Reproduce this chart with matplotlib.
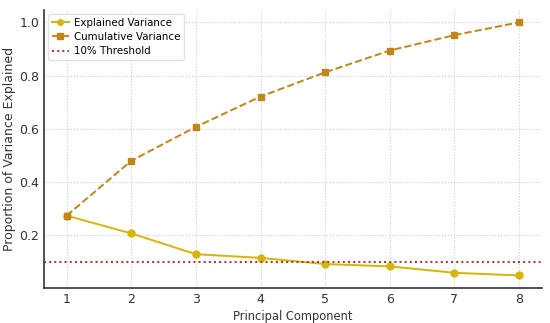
import numpy as np
import matplotlib
matplotlib.use("Agg")
import matplotlib.pyplot as plt

# data
components = [1, 2, 3, 4, 5, 6, 7, 8]
explained = [0.273, 0.206, 0.128, 0.114, 0.091, 0.082, 0.058, 0.048]
cumulative = [0.273, 0.479, 0.607, 0.721, 0.812, 0.894, 0.952, 1.000]
threshold = 0.10

fig, ax = plt.subplots(figsize=(5.5, 3.23), dpi=100)

ax.plot(components, explained, marker="o", color="#d6b40c", linewidth=1.4,
        markersize=5, label="Explained Variance")
ax.plot(components, cumulative, marker="s", linestyle="--", color="#c0861a",
        linewidth=1.4, markersize=5, label="Cumulative Variance")
ax.axhline(threshold, color="#b0301e", linestyle=":", linewidth=1.4,
           label="10% Threshold")

ax.set_xlabel("Principal Component", fontsize=8.3, color="#333333", labelpad=3)
ax.set_ylabel("Proportion of Variance Explained", fontsize=9, color="#333333",
              labelpad=2)
ax.set_xticks(components)
ax.set_yticks([0.2, 0.4, 0.6, 0.8, 1.0])
ax.tick_params(labelsize=9, colors="#333333", length=0, pad=3.5)

ax.grid(True, linestyle=":", color="#cccccc", linewidth=0.8)
for side in ["top", "right"]:
    ax.spines[side].set_visible(False)
for side in ["left", "bottom"]:
    ax.spines[side].set_color("#333333")
    ax.spines[side].set_linewidth(1.2)

ax.legend(loc="upper left", fontsize=7.4, framealpha=0.9, edgecolor="#dddddd",
          handlelength=1.6, handletextpad=0.5, markerscale=0.8,
          labelspacing=0.4, borderaxespad=0.4)

plt.subplots_adjust(left=0.08, right=0.985, top=0.97, bottom=0.108)
plt.savefig("out.png")
